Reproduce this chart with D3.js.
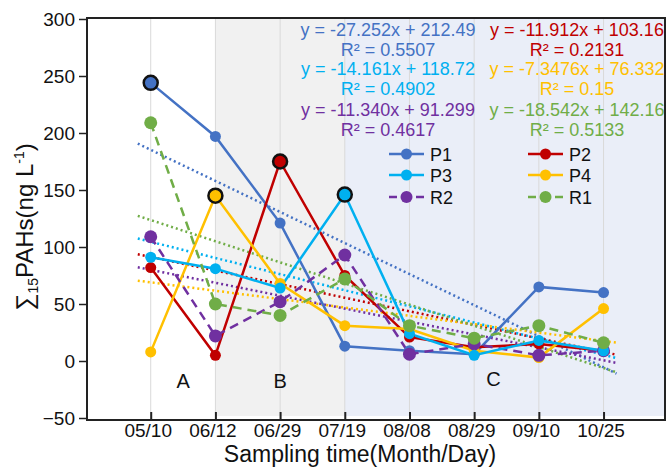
<!DOCTYPE html>
<html><head><meta charset="utf-8">
<script src="https://cdn.jsdelivr.net/npm/d3@7"></script>
<style>
html,body{margin:0;padding:0;background:#fff;}
svg{display:block;font-family:"Liberation Sans",Arial,sans-serif;}
</style></head>
<body>
<svg id="c" width="667" height="468"></svg>
<script>
const dates = ["05/10","06/12","06/29","07/19","08/08","08/29","09/10","10/25"];
const yTicks = [-50,0,50,100,150,200,250,300];
const seriesNames = ["P1","P2","P3","P4","R2","R1"];
const seriesColors = ["#4472C4","#C00000","#00B0F0","#FFC000","#7030A0","#70AD47"];
const P1 = [244,197,121,13,9,6,65,60];
const P2 = [82,5,175,75,21,12,15,9];
const P3 = [91,81,64,146,24,5,18,9];
const P4 = [8,145,68,31,28,9,3,46];
const R2 = [109,22,52,93,6,15,5,9];
const R1 = [209,50,40,72,31,20,31,16];
const slopes = [-27.252,-11.912,-14.161,-7.3476,-11.340,-18.542];
const intercepts = [212.49,103.16,118.72,76.332,91.299,142.16];
const eqTexts = ["y = -27.252x + 212.49","y = -11.912x + 103.16","y = -14.161x + 118.72","y = -7.3476x + 76.332","y = -11.340x + 91.299","y = -18.542x + 142.16"];
const r2Texts = ["R² = 0.5507","R² = 0.2131","R² = 0.4902","R² = 0.15","R² = 0.4617","R² = 0.5133"];
const maxIdx = [0,2,3,1,null,null];
const dashed = [false,false,false,false,true,true];
const periods = ["A","B","C"];
const periodPos = [0.5,2,5.3];

const values = [P1,P2,P3,P4,R2,R1];
const svg = d3.select("#c");
const L=87, R=665, T=18, B=420;
const x = d3.scaleLinear().domain([-0.985,7.95]).range([L,R]);
const y = d3.scaleLinear().domain([-50,300]).range([418,19]);

// background shading
svg.append("rect").attr("x",x(1)).attr("y",T).attr("width",x(3)-x(1)).attr("height",B-T-4).attr("fill","#f1f1f1");
svg.append("rect").attr("x",x(3)).attr("y",T).attr("width",R-x(3)).attr("height",B-T-4).attr("fill","#eaeef8");

// vertical gridlines
svg.append("g").selectAll("line").data(dates).join("line")
  .attr("x1",(d,i)=>x(i)).attr("x2",(d,i)=>x(i)).attr("y1",T).attr("y2",B)
  .attr("stroke","#d9d9d9").attr("stroke-width",1);

// trend lines
const tx0=-0.2, tx1=7.2;
svg.append("g").selectAll("line").data(seriesNames).join("line")
  .attr("x1",x(tx0)).attr("x2",x(tx1))
  .attr("y1",(d,k)=>y(slopes[k]*(tx0+1)+intercepts[k]))
  .attr("y2",(d,k)=>y(slopes[k]*(tx1+1)+intercepts[k]))
  .attr("stroke",(d,k)=>seriesColors[k]).attr("stroke-width",2.5)
  .attr("stroke-dasharray","2,3");

// series
const order=[0,1,3,4,2,5];
const line = d3.line().x((d,i)=>x(i)).y(d=>y(d));
order.forEach(k=>{
  svg.append("path").attr("d",line(values[k])).attr("fill","none")
    .attr("stroke",seriesColors[k]).attr("stroke-width",2.5)
    .attr("stroke-dasharray",dashed[k]?"9,6":null);
});
order.forEach(k=>{
  svg.append("g").selectAll("circle").data(values[k]).join("circle")
    .attr("cx",(d,i)=>x(i)).attr("cy",d=>y(d))
    .attr("r",(d,i)=>i===maxIdx[k]?7:(dashed[k]?6.5:5.5))
    .attr("fill",seriesColors[k])
    .attr("stroke",(d,i)=>i===maxIdx[k]?"#111":"none")
    .attr("stroke-width",2.5);
});

// frame
svg.append("rect").attr("x",L).attr("y",T).attr("width",R-L).attr("height",B-T)
  .attr("fill","none").attr("stroke","#222").attr("stroke-width",2);

// y axis
const yAxis = d3.axisLeft(y).tickValues(yTicks).tickSize(8).tickPadding(4).tickFormat(d3.format("d"));
const gy = svg.append("g").attr("transform",`translate(${L},0)`).call(yAxis);
gy.select(".domain").remove();
gy.selectAll(".tick line").attr("stroke","#222").attr("stroke-width",1.5);
gy.selectAll(".tick text").attr("font-size",19).attr("fill","#111").attr("font-family","Liberation Sans, Arial, sans-serif");

// x axis (ticks inward)
const xAxis = d3.axisBottom(x).tickValues(d3.range(dates.length)).tickFormat(i=>dates[i]).tickSize(-8).tickPadding(4);
const gx = svg.append("g").attr("transform",`translate(0,${B})`).call(xAxis);
gx.select(".domain").remove();
gx.selectAll(".tick line").attr("stroke","#222").attr("stroke-width",2);
gx.selectAll(".tick text").attr("font-size",19).attr("fill","#111").attr("dx",-3)
  .attr("font-family","Liberation Sans, Arial, sans-serif");

// axis titles
svg.append("text").attr("x",360).attr("y",462).attr("text-anchor","middle")
  .attr("font-size",23).attr("fill","#111").text("Sampling time(Month/Day)");
const yt = svg.append("text").attr("transform","translate(33,227) rotate(-90)")
  .attr("text-anchor","middle").attr("font-size",24).attr("fill","#111");
yt.append("tspan").text("∑");
yt.append("tspan").attr("font-size",14).attr("dy",5).text("15");
yt.append("tspan").attr("dy",-5).text("PAHs(ng L");
yt.append("tspan").attr("font-size",14).attr("dy",-9).text("-1");
yt.append("tspan").attr("dy",9).text(")");

// period labels
svg.append("g").selectAll("text").data(periods).join("text")
  .attr("x",(d,i)=>x(periodPos[i])).attr("y",(d,i)=>i===2?386:388)
  .attr("text-anchor","middle").attr("font-size",20).attr("fill","#111").text(d=>d);

// equations
const eqCol=[388,577], eqBase=[36,75,116];
seriesNames.forEach((s,k)=>{
  const col=k%2, row=Math.floor(k/2);
  svg.append("text").attr("x",eqCol[col]).attr("y",eqBase[row]).attr("text-anchor","middle")
    .attr("font-size",18).attr("fill",seriesColors[k]).text(eqTexts[k]);
  svg.append("text").attr("x",eqCol[col]).attr("y",eqBase[row]+20).attr("text-anchor","middle")
    .attr("font-size",18).attr("fill",seriesColors[k]).text(r2Texts[k]);
});

// legend
const legCol=[389,528], legRow=[154,175,197];
seriesNames.forEach((s,k)=>{
  const col=k%2, row=Math.floor(k/2);
  const g=svg.append("g").attr("transform",`translate(${legCol[col]},${legRow[row]})`);
  g.append("line").attr("x1",0).attr("x2",35).attr("y1",0).attr("y2",0)
    .attr("stroke",seriesColors[k]).attr("stroke-width",2.5)
    .attr("stroke-dasharray",dashed[k]?"8,7,5,7":null);
  g.append("circle").attr("cx",17.5).attr("cy",0).attr("r",dashed[k]?6:5.5).attr("fill",seriesColors[k]);
  g.append("text").attr("x",41).attr("y",7).attr("font-size",18).attr("fill","#111").text(s);
});
</script>
</body></html>
